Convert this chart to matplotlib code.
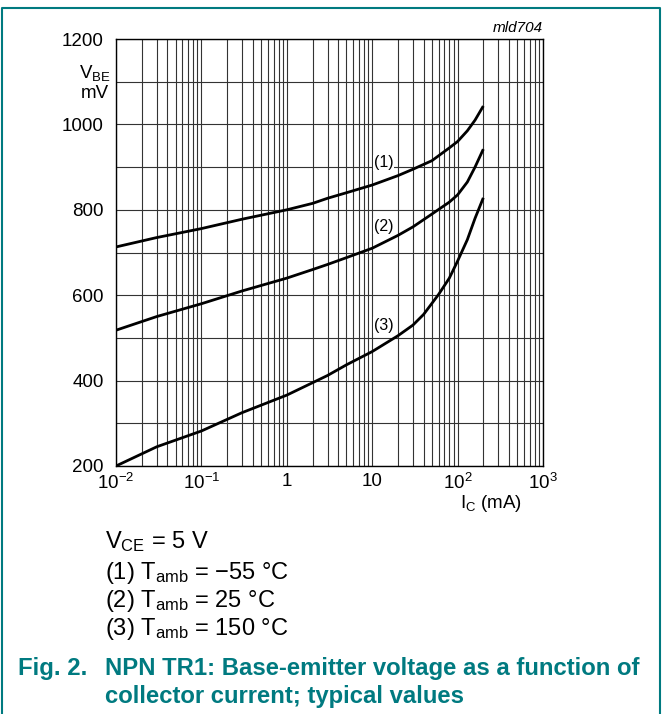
import matplotlib
matplotlib.use("Agg")
import matplotlib.pyplot as plt
from matplotlib.lines import Line2D

plt.rcParams["font.family"] = ["Liberation Sans", "DejaVu Sans"]
plt.rcParams["mathtext.fontset"] = "custom"
plt.rcParams["mathtext.rm"] = "Liberation Sans"
plt.rcParams["mathtext.it"] = "Liberation Sans"

# collector current (mA) and V_BE (mV)
ic_1 = [0.01, 0.03, 0.1, 0.3, 1, 2, 3, 5, 10, 20, 30, 50, 80, 100, 130, 160, 200]
vbe_1 = [713, 735, 756, 778, 800, 815, 827, 840, 858, 880, 895, 915, 945, 960, 985, 1010, 1043]

ic_2 = [0.01, 0.03, 0.1, 0.3, 1, 2, 3, 5, 10, 20, 30, 50, 80, 100, 130, 160, 200]
vbe_2 = [518, 550, 580, 610, 640, 660, 672, 688, 710, 740, 760, 790, 818, 835, 865, 900, 942]

ic_3 = [0.01, 0.03, 0.1, 0.3, 1, 2, 3, 5, 10, 20, 30, 40, 60, 80, 100, 130, 160, 200]
vbe_3 = [200, 245, 282, 325, 366, 395, 412, 437, 468, 505, 530, 555, 602, 640, 680, 730, 780, 828]

curve_labels = ["(1)", "(2)", "(3)"]
label_pos = [(13.5, 910), (13.5, 762), (13.5, 530)]

x_ticks = [0.01, 0.1, 1, 10, 100, 1000]
x_ticklabels = ["$10^{-2}$", "$10^{-1}$", "1", "10", "$10^2$", "$10^3$"]
y_ticks = [200, 400, 600, 800, 1000, 1200]

notes = [r"$\mathrm{V_{CE}}$ = 5 V",
         "(1) $\\mathrm{T_{amb}}$ = \u221255 \u00b0C",
         "(2) $\\mathrm{T_{amb}}$ = 25 \u00b0C",
         "(3) $\\mathrm{T_{amb}}$ = 150 \u00b0C"]

W, H = 662, 714
teal = "#007a80"

fig = plt.figure(figsize=(W / 100, H / 100), dpi=100)
ax = fig.add_axes([116 / W, 1 - 466 / H, 427 / W, 427 / H])

ax.set_xscale("log")
ax.set_xlim(0.01, 1000)
ax.set_ylim(200, 1200)

ax.set_xticks(x_ticks)
ax.set_xticklabels(x_ticklabels)
ax.set_xticks([m * 10.0 ** e for e in range(-2, 3) for m in range(2, 10)], minor=True)
ax.set_yticks(y_ticks)
ax.set_yticks(range(300, 1200, 200), minor=True)
ax.tick_params(which="both", length=0, labelsize=13.5)
ax.tick_params(axis="x", pad=5)
ax.tick_params(axis="y", pad=9)
ax.grid(True, which="both", color="#333333", linewidth=0.8)
for s in ax.spines.values():
    s.set_linewidth(1.0)

for xs, ys in [(ic_1, vbe_1), (ic_2, vbe_2), (ic_3, vbe_3)]:
    ax.plot(xs, ys, color="black", linewidth=2.0, solid_capstyle="butt", zorder=3)

for lab, (lx, ly) in zip(curve_labels, label_pos):
    ax.text(lx, ly, lab, fontsize=11.5, ha="center", va="center", zorder=4,
            bbox=dict(facecolor="white", edgecolor="none", pad=0.5))

def ft(x, y, s, **kw):
    fig.text(x / W, 1 - y / H, s, **kw)

ft(95, 73, r"$\mathrm{V_{BE}}$", fontsize=13.5, ha="center", va="center")
ft(95, 93, "mV", fontsize=13.5, ha="center", va="center")
ft(543, 28, "mld704", fontsize=11, style="italic", ha="right", va="center")
ft(491, 504, r"$\mathrm{I_C}$ (mA)", fontsize=13.5, ha="center", va="center")

for y, n in zip([542, 573, 601, 629], notes):
    ft(105, y, n, fontsize=17, ha="left", va="center")

cap = dict(fontsize=17.2, weight="bold", color=teal, ha="left", va="center")
ft(18, 668, "Fig. 2.", **cap)
ft(105, 668, "NPN TR1: Base-emitter voltage as a function of", **cap)
ft(105, 697, "collector current; typical values", **cap)

# frame around the figure, open at the bottom
fx = [1.5 / W, 1.5 / W, 659.5 / W, 659.5 / W]
fy = [0, 1 - 8 / H, 1 - 8 / H, 0]
fig.add_artist(Line2D(fx, fy, color=teal, linewidth=1.5, transform=fig.transFigure))

fig.savefig("out.png", dpi=100)
